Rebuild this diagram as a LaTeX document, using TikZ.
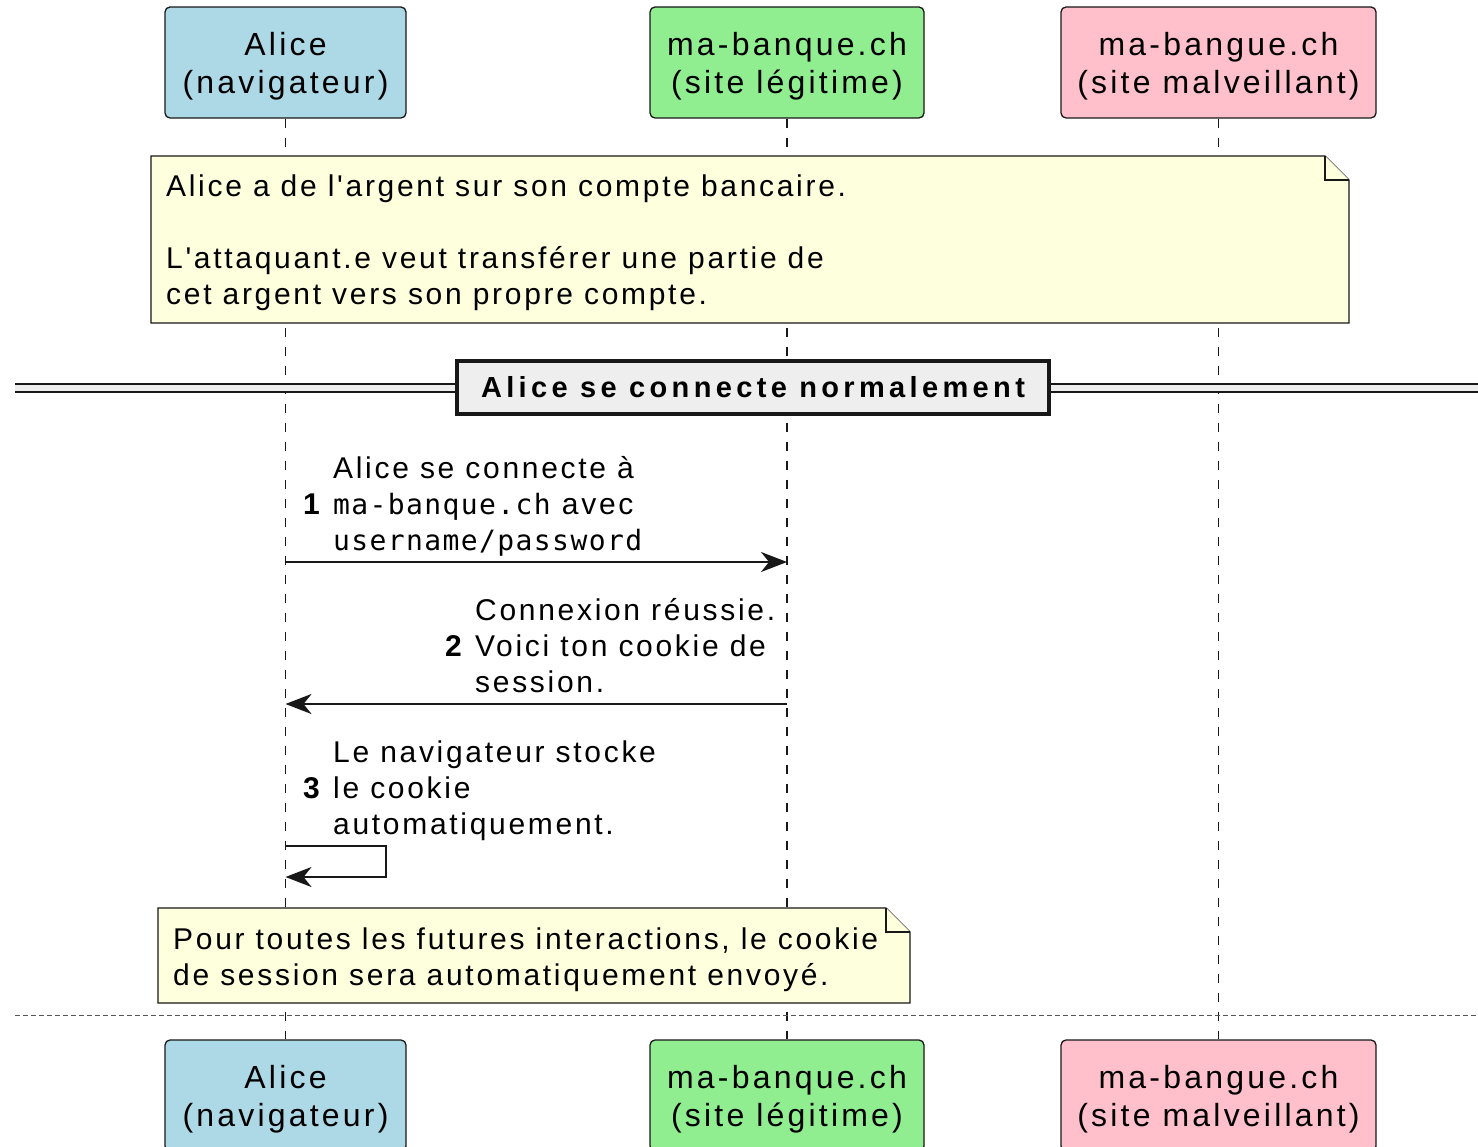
\documentclass[tikz,border=0pt]{standalone}
\usepackage{fontspec}
\setmainfont{Liberation Sans}
\newfontfamily\headfont[LetterSpace=10]{Liberation Sans}
\newfontfamily\bodyfont[LetterSpace=9]{Liberation Sans}
\newfontfamily\dividerfont[LetterSpace=15]{Liberation Sans}
\newfontfamily\codefont[LetterSpace=5]{DejaVu Sans Mono}
\usetikzlibrary{arrows.meta}

\definecolor{alicebg}{HTML}{ADD8E6}
\definecolor{legitbg}{HTML}{90EE90}
\definecolor{evilbg}{HTML}{FFC0CB}
\definecolor{notebg}{HTML}{FEFFDD}
\definecolor{ink}{HTML}{181818}
\definecolor{groupbg}{HTML}{EEEEEE}
\definecolor{sepgray}{HTML}{555555}

\tikzset{
  participant/.style={draw=ink, line width=1.3pt, rounded corners=5pt,
    minimum height=111pt, align=center, inner sep=0pt, text depth=0pt,
    font=\headfont\fontsize{32}{38}\selectfont},
  lifeline/.style={draw=ink, line width=1.2pt, dash pattern=on 9pt off 10pt},
  msg/.style={draw=ink, line width=2pt, line join=miter,
    -{Stealth[length=26pt, width=20pt, inset=8pt]}},
  notebox/.style={draw=ink, line width=1.2pt, fill=notebg, line join=miter},
  msgtext/.style={anchor=base west, align=left, inner sep=0pt,
    font=\bodyfont\fontsize{30}{36}\selectfont},
  msgnum/.style={anchor=base west, inner sep=0pt,
    font=\bfseries\fontsize{30}{36}\selectfont},
  divider/.style={draw=ink, line width=4pt, fill=groupbg, inner sep=0pt,
    minimum width=592pt, minimum height=53pt,
    font=\dividerfont\bfseries\fontsize{29}{32}\selectfont},
  separator/.style={draw=sepgray, line width=1pt, dash pattern=on 5pt off 3pt},
}
\newcommand{\code}[1]{{\codefont\fontsize{28}{36}\selectfont #1}}

\begin{document}
\begin{tikzpicture}[x=1pt, y=-1pt]
\useasboundingbox (0,0) rectangle (1478,1147);
\clip (0,0) rectangle (1478,1147);
\fill[white] (0,0) rectangle (1478,1147);

% participants, top and bottom
\node[participant, fill=alicebg, minimum width=241pt] (aliceT) at (285.5,62.5) {Alice\\(navigateur)};
\node[participant, fill=legitbg, minimum width=274pt] (legitT) at (787,62.5) {ma-banque.ch\\(site légitime)};
\node[participant, fill=evilbg, minimum width=315pt] (evilT) at (1218.5,62.5) {ma-bangue.ch\\(site malveillant)};
\node[participant, fill=alicebg, minimum width=241pt] (aliceB) at (285.5,1095.5) {Alice\\(navigateur)};
\node[participant, fill=legitbg, minimum width=274pt] (legitB) at (787,1095.5) {ma-banque.ch\\(site légitime)};
\node[participant, fill=evilbg, minimum width=315pt] (evilB) at (1218.5,1095.5) {ma-bangue.ch\\(site malveillant)};

% lifelines
\draw[lifeline] (aliceT.south) -- (aliceB.north);
\draw[lifeline] (legitT.south) -- (legitB.north);
\draw[lifeline] (evilT.south) -- (evilB.north);

% first note
\draw[notebox] (151,156) -- (1325,156) -- (1349,180) -- (1349,323) -- (151,323) -- cycle;
\draw[notebox] (1325,156) -- (1325,180) -- (1349,180);
\node[msgtext] (note1) at (166,305) {Alice a de l'argent sur son compte bancaire.\\[36pt]
  L'attaquant.e veut transférer une partie de\\cet argent vers son propre compte.};

% group divider
\fill[groupbg] (15,384.5) rectangle (1478,392.5);
\coordinate (divL1) at (15,384.5);
\coordinate (divR1) at (1478,384.5);
\coordinate (divL2) at (15,392.5);
\coordinate (divR2) at (1478,392.5);
\draw[ink, line width=2pt] (divL1) -- (divR1);
\draw[ink, line width=2pt] (divL2) -- (divR2);
\node[divider] (group) at (753,387.5) {Alice se connecte normalement\hspace{12pt}};

% message 1
\coordinate (y1) at (0,562);
\draw[msg] (aliceT.south |- y1) -- (legitT.south |- y1);
\node[msgnum] (n1) at (303,514) {1};
\node[msgtext] (t1) at (333,550) {Alice se connecte à\\\code{ma-banque.ch} avec\\\code{username/password}};

% message 2
\coordinate (y2) at (0,704);
\draw[msg] (legitT.south |- y2) -- (aliceT.south |- y2);
\node[msgnum] (n2) at (445,656) {2};
\node[msgtext] (t2) at (475,692) {Connexion réussie.\\Voici ton cookie de\\session.};

% message 3 (self)
\coordinate (y3a) at (0,846);
\coordinate (y3b) at (0,877);
\coordinate (loop) at (386,0);
\draw[msg] (aliceT.south |- y3a) -- (loop |- y3a) -- (loop |- y3b) -- (aliceT.south |- y3b);
\node[msgnum] (n3) at (303,798) {3};
\node[msgtext] (t3) at (333,834) {Le navigateur stocke\\le cookie\\automatiquement.};

% second note
\draw[notebox] (158,908) -- (886,908) -- (910,932) -- (910,1003) -- (158,1003) -- cycle;
\draw[notebox] (886,908) -- (886,932) -- (910,932);
\node[msgtext] (note2) at (173,985) {Pour toutes les futures interactions, le cookie\\de session sera automatiquement envoyé.};

% separator
\coordinate (sepL) at (15,1015);
\coordinate (sepR) at (1478,1015);
\draw[separator] (sepL) -- (sepR);
\end{tikzpicture}
\end{document}
